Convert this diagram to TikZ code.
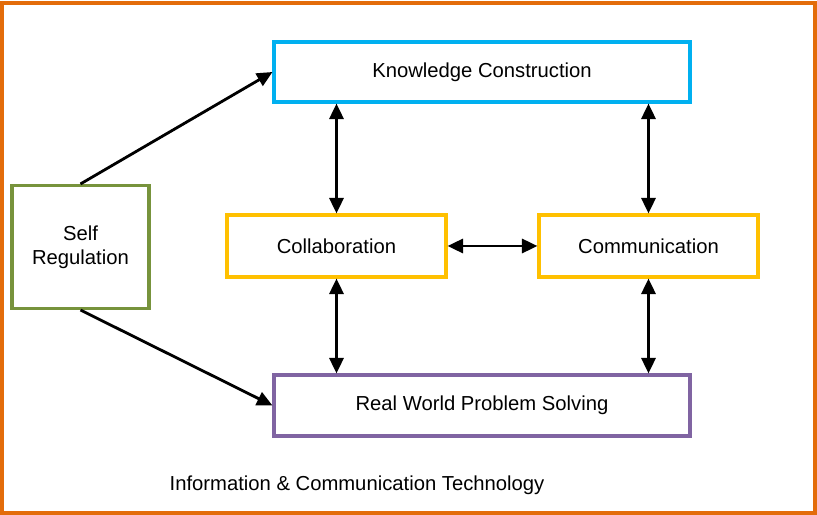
\documentclass[tikz,border=0pt]{standalone}
\usepackage{fontspec}
\setmainfont{Liberation Sans}
\usetikzlibrary{arrows.meta}

\definecolor{frameorange}{RGB}{227,108,10}
\definecolor{kcblue}{RGB}{0,176,240}
\definecolor{colyellow}{RGB}{255,192,0}
\definecolor{selfgreen}{RGB}{119,147,60}
\definecolor{rwpurple}{RGB}{128,100,162}

\tikzset{
    box/.style={draw, line width=2.2pt, minimum height=1.5cm, align=center,
        font=\fontsize{14.4}{17}\selectfont},
    link/.style={line width=2pt, -{Triangle[length=11pt,width=10pt]}},
    dlink/.style={line width=2pt, {Triangle[length=11pt,width=10pt]}-{Triangle[length=11pt,width=10pt]}}
}

\begin{document}
\begin{tikzpicture}
        \useasboundingbox (0,0) rectangle (20.425,12.875);
        \draw[frameorange, line width=2.4pt] (0.05,0.05) rectangle (20.375,12.8);

        \node[box, kcblue, text=black, minimum width=10.4cm] (kc) at (12.05,11.075) {Knowledge Construction};
        \node[box, colyellow, text=black, minimum width=5.475cm, minimum height=1.55cm] (coll) at (8.4125,6.725) {Collaboration};
        \node[box, colyellow, text=black, minimum width=5.475cm, minimum height=1.55cm] (comm) at (16.2125,6.725) {Communication};
        \node[box, selfgreen, text=black, minimum width=3.425cm, minimum height=3.075cm] (self) at (2.0125,6.7) {Self\\Regulation};
        \node[box, rwpurple, text=black, minimum width=10.4cm, minimum height=1.525cm] (rw) at (12.05,2.7375) {Real World Problem Solving};
        \node[font=\fontsize{14.4}{17}\selectfont] (ict) at (8.925,0.75) {Information \& Communication Technology};

        %\draw[step=1.0,black,thin] (0,0) grid (20,12);
        \draw[link] (self.north) -- (kc.west);
        \draw[link] (self.south) -- (rw.west);

        \draw[dlink] (coll.north |- kc.south) -- (coll.north);
        \draw[dlink] (comm.north |- kc.south) -- (comm.north);
        \draw[dlink] (coll.east) -- (comm.west);
        \draw[dlink] (coll.south) -- (coll.south |- rw.north);
        \draw[dlink] (comm.south) -- (comm.south |- rw.north);
\end{tikzpicture}
\end{document}
